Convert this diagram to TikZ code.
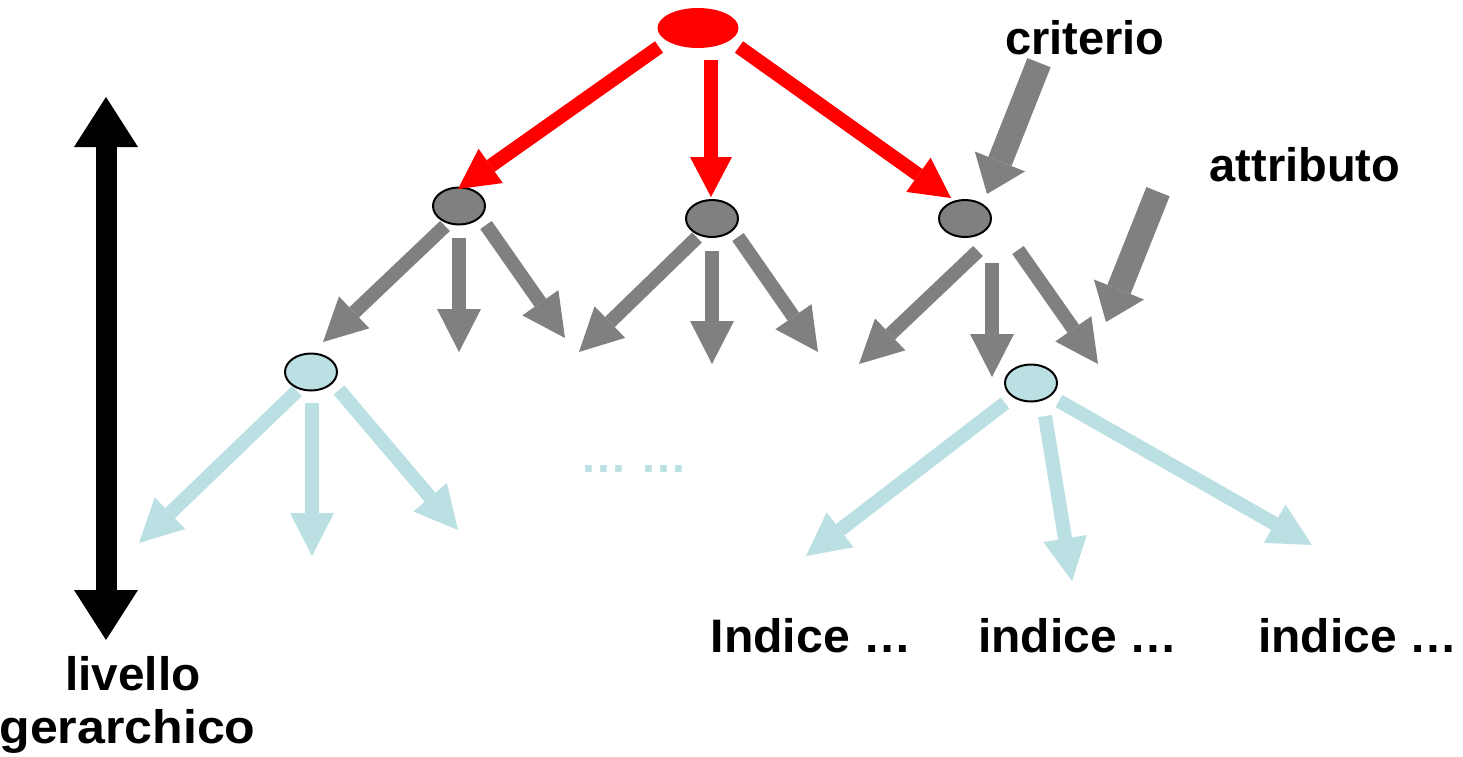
\documentclass[tikz,border=0pt]{standalone}
\usepackage{fontspec}
\setmainfont{Liberation Sans}
\usetikzlibrary{arrows.meta,shapes.geometric,calc}
\definecolor{rootred}{HTML}{FF0000}
\definecolor{nodegray}{HTML}{808080}
\definecolor{leafblue}{HTML}{BBE0E3}
\begin{document}
\begin{tikzpicture}[x=1pt,y=-1pt,
  txt/.style={font=\fontsize{47pt}{54pt}\selectfont\bfseries, inner sep=0pt, anchor=base},
  rootnode/.style={ellipse, fill=rootred, minimum width=81pt, minimum height=40pt, inner sep=0pt},
  midnode/.style={ellipse, draw=black, line width=2pt, fill=nodegray, minimum width=52pt, minimum height=37pt, inner sep=0pt},
  leafnode/.style={midnode, fill=leafblue},
  link/.style={line width=14pt, -{Triangle[width=44pt,length=43pt,line width=0pt]}},
  redlink/.style={link, draw=rootred, -{Triangle[width=42pt,length=40pt,line width=0pt]}},
  graylink/.style={link, draw=nodegray},
  bluelink/.style={link, draw=leafblue},
  pointer/.style={draw=nodegray, line width=25pt, -{Triangle[width=54pt,length=35pt,line width=0pt]}},
  levelarrow/.style={draw=black, line width=21pt, {Triangle[width=64pt,length=50pt,line width=0pt]}-{Triangle[width=64pt,length=50pt,line width=0pt]}}
]
\useasboundingbox (0,0) rectangle (1463,756);

% tree nodes
\node[rootnode] (R) at (698,28) {};
\node[midnode] (G1) at (459,206) {};
\node[midnode] (G2) at (712,218.5) {};
\node[midnode] (G3) at (965,218.5) {};
\node[leafnode] (B1) at (311,372) {};
\node[leafnode] (B2) at (1031,383) {};

% arrow tips
\coordinate (r1) at (458,189);
\coordinate (r2) at (711,197);
\coordinate (r3) at (951,198);
\coordinate (g1a) at (323,342);
\coordinate (g1b) at (459,352);
\coordinate (g1c) at (565,338);
\coordinate (g2a) at (579,352);
\coordinate (g2b) at (712,364);
\coordinate (g2c) at (818,352);
\coordinate (g3a) at (859,364);
\coordinate (g3b) at (992,377);
\coordinate (g3c) at (1098,364);
\coordinate (b1a) at (139,543);
\coordinate (b1b) at (312,556);
\coordinate (b1c) at (458,530);
\coordinate (b2a) at (806,556);
\coordinate (b2b) at (1072,581);
\coordinate (b2c) at (1312,545);

% root level
\draw[redlink] ($(R)+(-39,19)$) -- (r1);
\draw[redlink] ($(R)+(13,32)$) -- (r2);
\draw[redlink] ($(R)+(41,19)$) -- (r3);

% second level
\draw[graylink] ($(G1)+(-14,20)$) -- (g1a);
\draw[graylink] ($(G1)+(0,32)$) -- (g1b);
\draw[graylink] ($(G1)+(27,19)$) -- (g1c);
\draw[graylink] ($(G2)+(-15,19)$) -- (g2a);
\draw[graylink] ($(G2)+(0,32.5)$) -- (g2b);
\draw[graylink] ($(G2)+(26,18.5)$) -- (g2c);
\draw[graylink] ($(G3)+(13,32.5)$) -- (g3a);
\draw[graylink] ($(G3)+(27,44.5)$) -- (g3b);
\draw[graylink] ($(G3)+(53,31.5)$) -- (g3c);

% third level
\draw[bluelink] ($(B1)+(-14,19)$) -- (b1a);
\draw[bluelink] ($(B1)+(1,31)$) -- (b1b);
\draw[bluelink] ($(B1)+(28,18)$) -- (b1c);
\draw[bluelink] ($(B2)+(-26,20)$) -- (b2a);
\draw[bluelink] ($(B2)+(14,33)$) -- (b2b);
\draw[bluelink] ($(B2)+(28,18)$) -- (b2c);

% labels and pointers
\node[txt] (crit) at (1085,54) {criterio};
\node[txt] (attr) at (1305,181) {attributo};
\coordinate (critTip) at (987,194);
\coordinate (attrTip) at (1106,322);
\draw[pointer] ($(crit.south)+(-46,8)$) -- (critTip);
\draw[pointer] ($(attr.south)+(-147,10)$) -- (attrTip);

\node[txt, text=leafblue] (gap) at (634,472) {… …};

\node[txt] (i1) at (811,652) {\scalebox{1.025}[1]{Indice …}};
\node[txt] (i2) at (1078,652) {\scalebox{1.02}[1]{indice …}};
\node[txt] (i3) at (1358,652) {\scalebox{1.02}[1]{indice …}};

% hierarchy level axis
\coordinate (top) at (106,97);
\coordinate (bottom) at (106,640);
\draw[levelarrow] (top) -- (bottom);
\node[txt] (lv1) at (133,690) {\scalebox{1.015}[1]{livello}};
\node[txt] (lv2) at (127.5,743) {\scalebox{1.065}[1]{gerarchico}};
\end{tikzpicture}
\end{document}
